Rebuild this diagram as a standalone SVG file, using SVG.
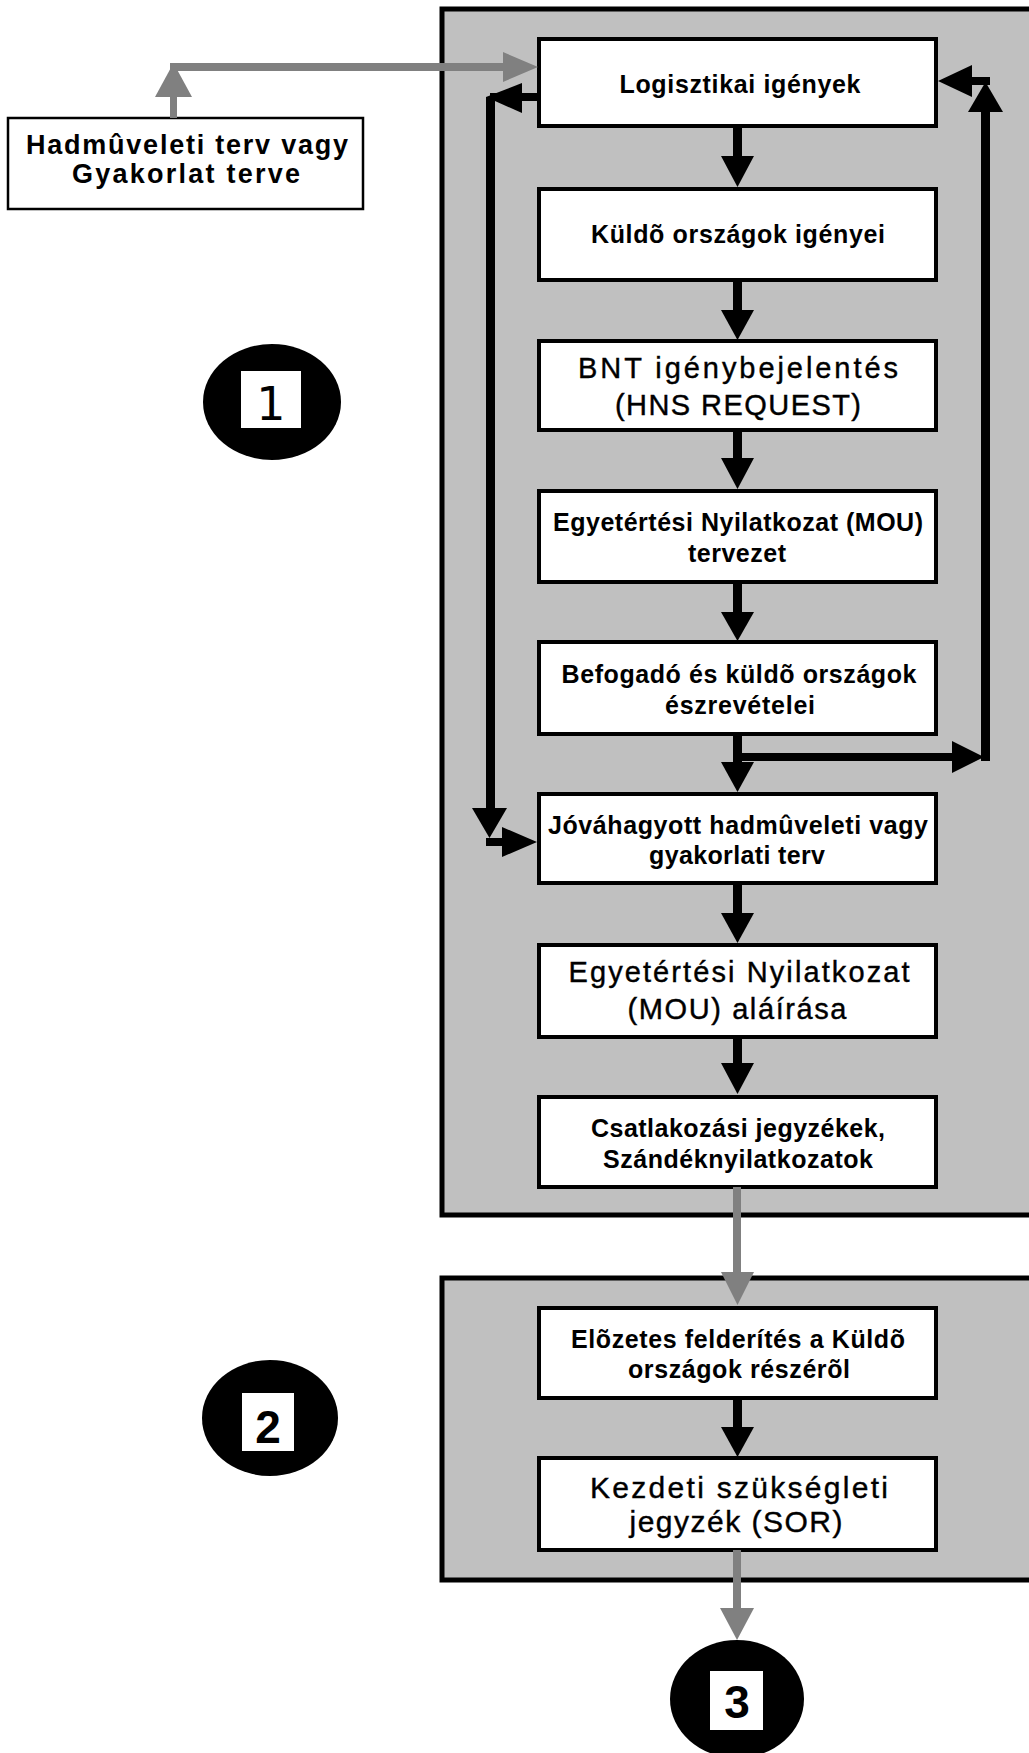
<svg xmlns="http://www.w3.org/2000/svg" width="1029" height="1753" viewBox="0 0 1029 1753">
<style>
.panel{fill:#c0c0c0;stroke:#000;stroke-width:5}
.box{fill:#fff;stroke:#000;stroke-width:4}
.tb{font-family:"Liberation Sans",Arial,sans-serif;font-weight:bold;font-size:25px;fill:#000;text-anchor:middle}
.tr{font-family:"Liberation Sans",Arial,sans-serif;font-weight:normal;font-size:29px;fill:#000;stroke:#000;stroke-width:0.4;text-anchor:middle}
.blk{fill:#000}
.gry{fill:#808080}
.num{font-family:"Liberation Sans",Arial,sans-serif;font-weight:bold;font-size:46px;fill:#000;text-anchor:middle}
</style>
<rect width="1029" height="1753" fill="#fff"/>
<g id="panel1"><rect class="panel" x="442" y="9" width="700" height="1206"/></g>
<g id="panel2"><rect class="panel" x="442" y="1278" width="700" height="302"/></g>

<g id="marker1">
<ellipse cx="272" cy="402" rx="69" ry="58" fill="#000"/>
<rect x="241" y="371" width="60" height="57" fill="#fff"/>
<text x="271" y="420" style="font-family:'DejaVu Sans',sans-serif;font-size:46px;text-anchor:middle">1</text>
</g>
<g id="marker2">
<ellipse cx="270" cy="1418" rx="68" ry="58" fill="#000"/>
<rect x="242" y="1393" width="52" height="58" fill="#fff"/>
<text class="num" x="268" y="1443">2</text>
</g>
<g id="marker3">
<ellipse cx="737" cy="1699" rx="67" ry="59" fill="#000"/>
<rect x="710" y="1671" width="53" height="59" fill="#fff"/>
<text class="num" x="737" y="1718">3</text>
</g>

<g id="plan">
<rect x="8" y="118" width="355" height="91" fill="#fff" stroke="#000" stroke-width="2.5"/>
<text class="tb" style="font-size:27px" x="187" y="154" textLength="322" lengthAdjust="spacing">Hadmûveleti terv vagy</text>
<text class="tb" style="font-size:27px" x="186" y="183" textLength="228" lengthAdjust="spacing">Gyakorlat terve</text>
</g>

<g id="n1">
<rect class="box" x="539" y="39" width="397" height="87"/>
<text class="tb" x="740" y="93" textLength="241" lengthAdjust="spacing">Logisztikai igények</text>
</g>
<g id="n2">
<rect class="box" x="539" y="189" width="397" height="91"/>
<text class="tb" x="738" y="243" textLength="294" lengthAdjust="spacing">Küldõ országok igényei</text>
</g>
<g id="n3">
<rect class="box" x="539" y="341" width="397" height="89"/>
<text class="tr" x="738" y="378" textLength="320" lengthAdjust="spacing">BNT igénybejelentés</text>
<text class="tr" x="738" y="415" textLength="246" lengthAdjust="spacing">(HNS REQUEST)</text>
</g>
<g id="n4">
<rect class="box" x="539" y="491" width="397" height="91"/>
<text class="tb" x="738" y="531" textLength="370" lengthAdjust="spacing">Egyetértési Nyilatkozat (MOU)</text>
<text class="tb" x="737" y="562" textLength="98" lengthAdjust="spacing">tervezet</text>
</g>
<g id="n5">
<rect class="box" x="539" y="642" width="397" height="92"/>
<text class="tb" x="739" y="683" textLength="355" lengthAdjust="spacing">Befogadó és küldõ országok</text>
<text class="tb" x="740" y="714" textLength="150" lengthAdjust="spacing">észrevételei</text>
</g>
<g id="n6">
<rect class="box" x="539" y="794" width="397" height="89"/>
<text class="tb" x="738" y="834" textLength="380" lengthAdjust="spacing">Jóváhagyott hadmûveleti vagy</text>
<text class="tb" x="737" y="864" textLength="176" lengthAdjust="spacing">gyakorlati terv</text>
</g>
<g id="n7">
<rect class="box" x="539" y="945" width="397" height="92"/>
<text class="tr" x="739" y="982" textLength="341" lengthAdjust="spacing">Egyetértési Nyilatkozat</text>
<text class="tr" x="737" y="1019" textLength="219" lengthAdjust="spacing">(MOU) aláírása</text>
</g>
<g id="n8">
<rect class="box" x="539" y="1097" width="397" height="90"/>
<text class="tb" x="738" y="1137" textLength="294" lengthAdjust="spacing">Csatlakozási jegyzékek,</text>
<text class="tb" x="738" y="1168" textLength="270" lengthAdjust="spacing">Szándéknyilatkozatok</text>
</g>
<g id="n9">
<rect class="box" x="539" y="1308" width="397" height="90"/>
<text class="tb" x="738" y="1348" textLength="334" lengthAdjust="spacing">Elõzetes felderítés a Küldõ</text>
<text class="tb" x="739" y="1378" textLength="222" lengthAdjust="spacing">országok részérõl</text>
</g>
<g id="n10">
<rect class="box" x="539" y="1458" width="397" height="92"/>
<text class="tr" style="font-size:30px" x="739" y="1498" textLength="298" lengthAdjust="spacing">Kezdeti szükségleti</text>
<text class="tr" style="font-size:30px" x="736" y="1532" textLength="213" lengthAdjust="spacing">jegyzék (SOR)</text>
</g>

<g id="connectors">
<rect class="gry" x="170" y="95" width="7" height="23"/>
<polygon class="gry" points="155,97 192,97 173.5,63"/>
<rect class="gry" x="170" y="63" width="335" height="8"/>
<polygon class="gry" points="503,52 503,82 538,67"/>
<rect class="blk" x="733" y="126" width="9" height="31"/>
<polygon class="blk" points="721,156 754,156 737.5,187"/>
<rect class="blk" x="733" y="280" width="9" height="31"/>
<polygon class="blk" points="721,310 754,310 737.5,340"/>
<rect class="blk" x="733" y="430" width="9" height="29"/>
<polygon class="blk" points="721,458 754,458 737.5,489"/>
<rect class="blk" x="733" y="582" width="9" height="31"/>
<polygon class="blk" points="721,612 754,612 737.5,641"/>
<rect class="blk" x="733" y="734" width="9" height="29"/>
<polygon class="blk" points="721,762 754,762 737.5,792"/>
<rect class="blk" x="733" y="883" width="9" height="31"/>
<polygon class="blk" points="721,913 754,913 737.5,943"/>
<rect class="blk" x="733" y="1037" width="9" height="27"/>
<polygon class="blk" points="721,1063 754,1063 737.5,1094"/>
<rect class="blk" x="733" y="1398" width="9" height="30"/>
<polygon class="blk" points="721,1427 754,1427 737.5,1457"/>
<rect class="blk" x="490" y="93" width="49" height="8"/>
<polygon class="blk" points="486,97 522,83 522,113"/>
<rect class="blk" x="486" y="97" width="9" height="712"/>
<polygon class="blk" points="472,808 507,808 489.5,838"/>
<rect class="blk" x="486" y="838" width="17" height="8"/>
<polygon class="blk" points="502,827 502,857 537,842"/>
<rect class="blk" x="737" y="753" width="216" height="8"/>
<polygon class="blk" points="952,741 952,773 984,757"/>
<rect class="blk" x="981" y="110" width="9" height="651"/>
<polygon class="blk" points="968,112 1003,112 985.5,82"/>
<rect class="blk" x="970" y="77" width="20" height="8"/>
<polygon class="blk" points="972,65 972,97 938,81"/>
<rect class="gry" x="733" y="1187" width="8" height="86"/>
<polygon class="gry" points="721,1272 754,1272 737.5,1305"/>
<rect class="gry" x="733" y="1550" width="8" height="59"/>
<polygon class="gry" points="720,1608 754,1608 737,1640"/>
</g>
</svg>
